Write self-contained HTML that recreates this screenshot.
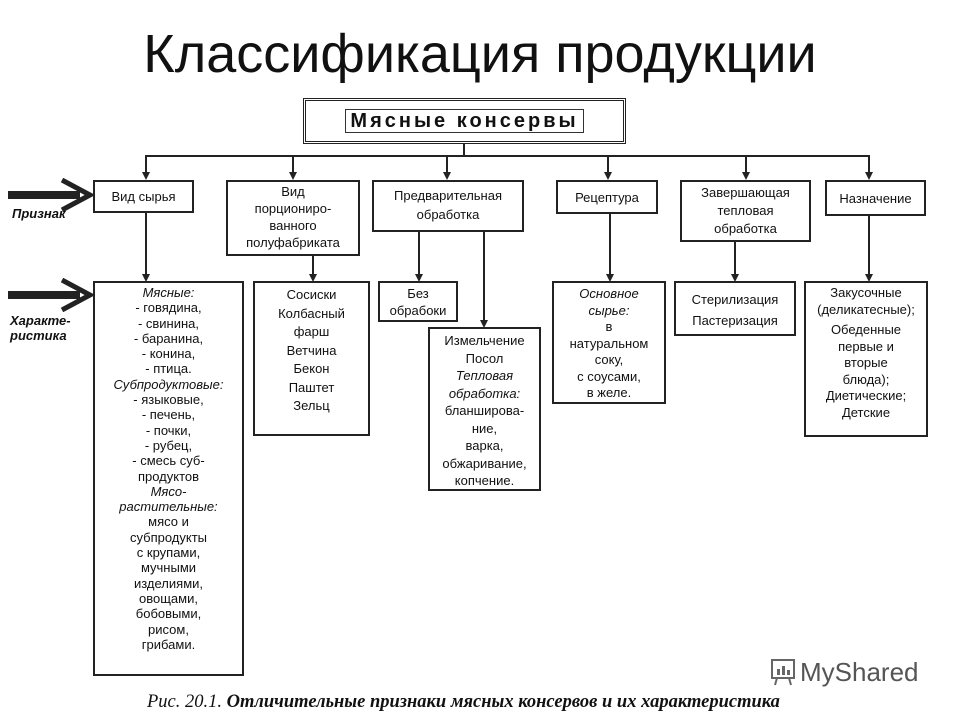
<!DOCTYPE html>
<html><head><meta charset="utf-8"><style>
body{margin:0;width:960px;height:720px;background:#fff;position:relative;overflow:hidden;font-family:"Liberation Sans","DejaVu Sans",sans-serif;color:#111}
.t{position:absolute;left:0;width:960px;top:23px;text-align:center;font-size:54px;color:#111;letter-spacing:0}
.b{position:absolute;border:2px solid #222;box-sizing:border-box;text-align:center;font-size:13px;line-height:16px;background:#fff}
.l{position:absolute;background:#222}
.a{position:absolute;width:0;height:0;border-left:4px solid transparent;border-right:4px solid transparent;border-top:8px solid #222}
i{font-style:italic}
</style></head><body>
<div class="t">Классификация продукции</div>
<div class="b" style="left:303px;top:98px;width:323px;height:46px;border:3px double #222;padding-top:10px;font-size:20px;font-weight:bold;letter-spacing:3px;line-height:20px"><span style="border:1px solid #333;padding:0 4px">Мясные консервы</span></div>
<div class="l" style="left:463px;top:143px;width:2px;height:13px"></div>
<div class="l" style="left:145px;top:155px;width:725px;height:2px"></div>
<div class="l" style="left:145px;top:155px;width:2px;height:18px"></div><div class="a" style="left:142px;top:172px"></div>
<div class="l" style="left:292px;top:155px;width:2px;height:18px"></div><div class="a" style="left:289px;top:172px"></div>
<div class="l" style="left:446px;top:155px;width:2px;height:18px"></div><div class="a" style="left:443px;top:172px"></div>
<div class="l" style="left:607px;top:155px;width:2px;height:18px"></div><div class="a" style="left:604px;top:172px"></div>
<div class="l" style="left:745px;top:155px;width:2px;height:18px"></div><div class="a" style="left:742px;top:172px"></div>
<div class="l" style="left:868px;top:155px;width:2px;height:18px"></div><div class="a" style="left:865px;top:172px"></div>
<div class="b" style="left:93px;top:180px;width:101px;height:33px;padding-top:7px">Вид сырья</div>
<div class="b" style="left:226px;top:180px;width:134px;height:76px;padding-top:1px;line-height:17px">Вид<br>порциониро-<br>ванного<br>полуфабриката</div>
<div class="b" style="left:372px;top:180px;width:152px;height:52px;padding-top:4px;line-height:19px">Предварительная<br>обработка</div>
<div class="b" style="left:556px;top:180px;width:102px;height:34px;padding-top:8px">Рецептура</div>
<div class="b" style="left:680px;top:180px;width:131px;height:62px;padding-top:2px;line-height:18px">Завершающая<br>тепловая<br>обработка</div>
<div class="b" style="left:825px;top:180px;width:101px;height:36px;padding-top:9px">Назначение</div>
<div class="l" style="left:145px;top:213px;width:2px;height:62px"></div><div class="a" style="left:142px;top:274px"></div>
<div class="l" style="left:312px;top:256px;width:2px;height:19px"></div><div class="a" style="left:309px;top:274px"></div>
<div class="l" style="left:418px;top:232px;width:2px;height:43px"></div><div class="a" style="left:415px;top:274px"></div>
<div class="l" style="left:483px;top:232px;width:2px;height:89px"></div><div class="a" style="left:480px;top:320px"></div>
<div class="l" style="left:609px;top:214px;width:2px;height:61px"></div><div class="a" style="left:606px;top:274px"></div>
<div class="l" style="left:734px;top:242px;width:2px;height:33px"></div><div class="a" style="left:731px;top:274px"></div>
<div class="l" style="left:868px;top:216px;width:2px;height:59px"></div><div class="a" style="left:865px;top:274px"></div>
<div class="b" style="left:93px;top:281px;width:151px;height:395px;padding-top:2px;line-height:15.3px"><i>Мясные:</i><br>- говядина,<br>- свинина,<br>- баранина,<br>- конина,<br>- птица.<br><i>Субпродуктовые:</i><br>- языковые,<br>- печень,<br>- почки,<br>- рубец,<br>- смесь суб-<br>продуктов<br><i>Мясо-<br>растительные:</i><br>мясо и<br>субпродукты<br>с крупами,<br>мучными<br>изделиями,<br>овощами,<br>бобовыми,<br>рисом,<br>грибами.</div>
<div class="b" style="left:253px;top:281px;width:117px;height:155px;padding-top:3px;line-height:18.5px">Сосиски<br>Колбасный<br>фарш<br>Ветчина<br>Бекон<br>Паштет<br>Зельц</div>
<div class="b" style="left:378px;top:281px;width:80px;height:41px;padding-top:2px;line-height:17px">Без<br>обрабоки</div>
<div class="b" style="left:428px;top:327px;width:113px;height:164px;padding-top:3px;line-height:17.5px">Измельчение<br>Посол<br><i>Тепловая<br>обработка:</i><br>бланширова-<br>ние,<br>варка,<br>обжаривание,<br>копчение.</div>
<div class="b" style="left:552px;top:281px;width:114px;height:123px;padding-top:3px;line-height:16.5px"><i>Основное<br>сырье:</i><br>в<br>натуральном<br>соку,<br>с соусами,<br>в желе.</div>
<div class="b" style="left:674px;top:281px;width:122px;height:55px;padding-top:6px;line-height:21px">Стерилизация<br>Пастеризация</div>
<div class="b" style="left:804px;top:281px;width:124px;height:156px;padding-top:2px;line-height:16.5px">Закусочные<br>(деликатесные);<br><span style="display:block;height:4px"></span>Обеденные<br>первые и<br>вторые<br>блюда);<br>Диетические;<br>Детские</div>
<div class="l" style="left:8px;top:191px;width:72px;height:8px"></div>
<svg style="position:absolute;left:60px;top:178px" width="36" height="34"><polyline points="2,2 30,17 2,32" fill="none" stroke="#222" stroke-width="5"/></svg>
<div style="position:absolute;left:12px;top:206px;font-size:13px;font-weight:bold;font-style:italic">Признак</div>
<div class="l" style="left:8px;top:291px;width:72px;height:8px"></div>
<svg style="position:absolute;left:60px;top:278px" width="36" height="34"><polyline points="2,2 30,17 2,32" fill="none" stroke="#222" stroke-width="5"/></svg>
<div style="position:absolute;left:10px;top:313px;font-size:13px;font-weight:bold;font-style:italic;line-height:15px">Характе-<br>ристика</div>
<svg style="position:absolute;left:768px;top:657px" width="30" height="30"><rect x="4" y="3" width="22" height="18" fill="none" stroke="#666" stroke-width="2"/><rect x="9" y="12" width="3" height="6" fill="#666"/><rect x="14" y="9" width="3" height="9" fill="#666"/><rect x="19" y="13" width="3" height="5" fill="#666"/><line x1="9" y1="21" x2="7" y2="28" stroke="#666" stroke-width="2"/><line x1="21" y1="21" x2="23" y2="28" stroke="#666" stroke-width="2"/></svg>
<div style="position:absolute;left:800px;top:657px;font-size:26px;color:#555">MyShared</div>
<div style="position:absolute;left:147px;top:692px;font-size:18.5px;font-family:'Liberation Serif',serif;font-style:italic;white-space:nowrap"><span>Рис. 20.1.</span> <b>Отличительные признаки мясных консервов и их характеристика</b></div>
</body></html>
